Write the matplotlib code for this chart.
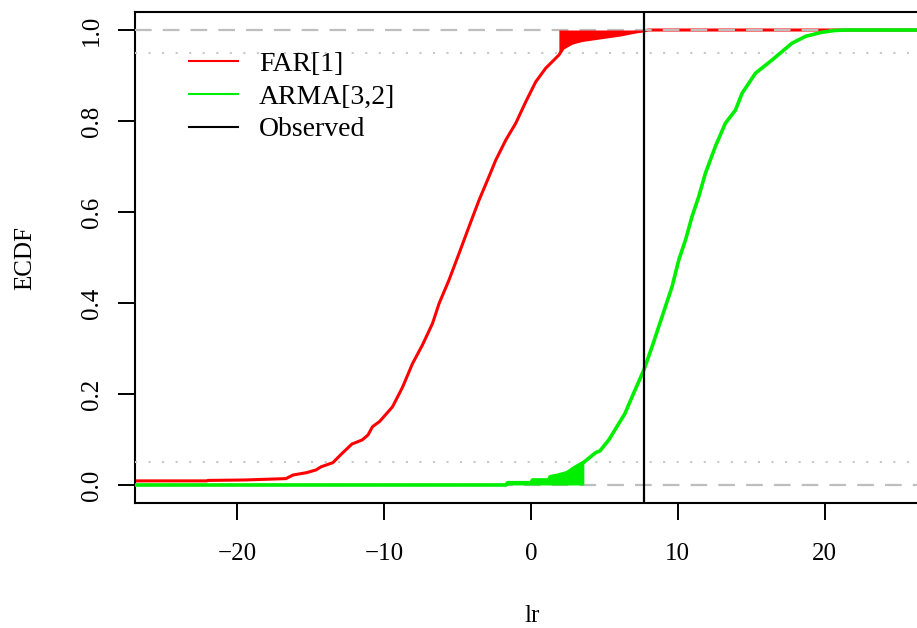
import numpy as np
import matplotlib
matplotlib.use("Agg")
import matplotlib.pyplot as plt

# ECDF of lr
far_lr = [-30, -22.1, -22.0, -19.5, -16.7, -16.2, -15.3, -14.65, -14.3, -13.5,
          -12.85, -12.2, -11.5, -11.1, -10.8, -10.3, -9.43, -8.75, -8.07, -7.39,
          -6.71, -6.26, -5.58, -4.90, -4.22, -3.54, -2.86, -2.40, -1.72, -1.04,
          -0.36, 0.32, 1.0, 1.9, 2.2, 2.8, 3.5, 5.0, 6.1, 7.2, 7.7, 8.0, 30]
far_ecdf = [0.009, 0.009, 0.010, 0.011, 0.014, 0.022, 0.027, 0.033, 0.040, 0.049,
            0.070, 0.090, 0.099, 0.110, 0.128, 0.140, 0.172, 0.215, 0.267, 0.308,
            0.355, 0.399, 0.451, 0.509, 0.568, 0.626, 0.678, 0.714, 0.758, 0.795,
            0.842, 0.886, 0.916, 0.945, 0.960, 0.971, 0.977, 0.984, 0.989, 0.996,
            0.998, 1.0, 1.0]

arma_lr = [-30, -1.7, -1.6, 0.0, 0.1, 1.2, 1.3, 1.9, 2.45, 3.0, 3.6, 4.4, 4.7,
           5.3, 6.0, 6.4, 6.89, 7.69, 8.25, 8.93, 9.61, 10.07, 10.52, 10.97,
           11.43, 11.88, 12.56, 13.24, 13.93, 14.38, 15.29, 16.42, 17.78, 18.7,
           19.8, 20.7, 21.5, 30]
arma_ecdf = [0.0, 0.0, 0.005, 0.005, 0.011, 0.011, 0.018, 0.022, 0.027, 0.039,
             0.050, 0.071, 0.075, 0.099, 0.136, 0.157, 0.194, 0.253, 0.304, 0.370,
             0.436, 0.495, 0.538, 0.590, 0.634, 0.685, 0.744, 0.795, 0.824, 0.861,
             0.905, 0.934, 0.971, 0.986, 0.995, 0.999, 1.0, 1.0]

obs_lr = 7.7        # observed statistic
far_q95 = 1.9       # FAR[1] 95% quantile
arma_q05 = 3.6      # ARMA[3,2] 5% quantile

plt.rcParams['font.family'] = ['Liberation Serif', 'DejaVu Serif']

fig = plt.figure(figsize=(9.17, 6.28), dpi=100)
ax = fig.add_axes([134.5 / 917, 1 - 503 / 628, (920 - 134.5) / 917, 491 / 628])

fx, fy = np.array(far_lr), np.array(far_ecdf)
gx, gy = np.array(arma_lr), np.array(arma_ecdf)

ax.plot(fx, fy, color='#ff0000', lw=2.2, zorder=2)

# reference lines
for yv in (0, 1):
    ax.axhline(yv, color='#bebebe', lw=1.6, dashes=(7.5, 5), zorder=3)
for yv in (0.05, 0.95):
    ax.axhline(yv, color='#c8c8c8', lw=1.5, dashes=(1, 5.5), zorder=3)

ax.plot(gx, gy, color='#00ee00', lw=2.6, zorder=4)

# tail regions
ax.fill_between(fx, fy, 1, where=(fx >= far_q95) & (fx <= obs_lr),
                color='#ff0000', lw=0, zorder=5)
ax.fill_between(gx, 0, gy, where=(gx <= arma_q05), color='#00ee00', lw=0, zorder=5)

ax.axvline(obs_lr, color='black', lw=1.6, zorder=6)

ax.set_xlim(-27.01, 26.5)
ax.set_ylim(-0.0396, 1.0396)
ax.set_xticks([-20, -10, 0, 10, 20])
ax.set_xticklabels(['\u221220', '\u221210', '0', '10', '20'])
ax.set_yticks([0.0, 0.2, 0.4, 0.6, 0.8, 1.0])
ax.set_yticklabels(['0.0', '0.2', '0.4', '0.6', '0.8', '1.0'])
ax.tick_params(axis='both', length=12, width=1.4, labelsize=18, pad=17, color='black')
ax.tick_params(axis='y', labelrotation=90, pad=11)
for lab in ax.get_yticklabels():
    lab.set_va('center')

for sp in ax.spines.values():
    sp.set_linewidth(1.5)

fig.text(532 / 917, 1 - 616 / 628, 'lr', fontsize=18, ha='center', va='center')
fig.text(25 / 917, 1 - 258 / 628, 'ECDF', fontsize=18, ha='center', va='center',
         rotation=90)

ax.plot([], [], color='#ff0000', lw=1.5, label='FAR[1]')
ax.plot([], [], color='#00ee00', lw=1.5, label='ARMA[3,2]')
ax.plot([], [], color='black', lw=1.5, label='Observed')
ax.legend(loc='upper left', bbox_to_anchor=(0.0555, 0.942), frameon=False,
          fontsize=20, handlelength=1.76, handletextpad=0.75, labelspacing=0.26,
          borderaxespad=0)

fig.savefig('out.png', dpi=100)
